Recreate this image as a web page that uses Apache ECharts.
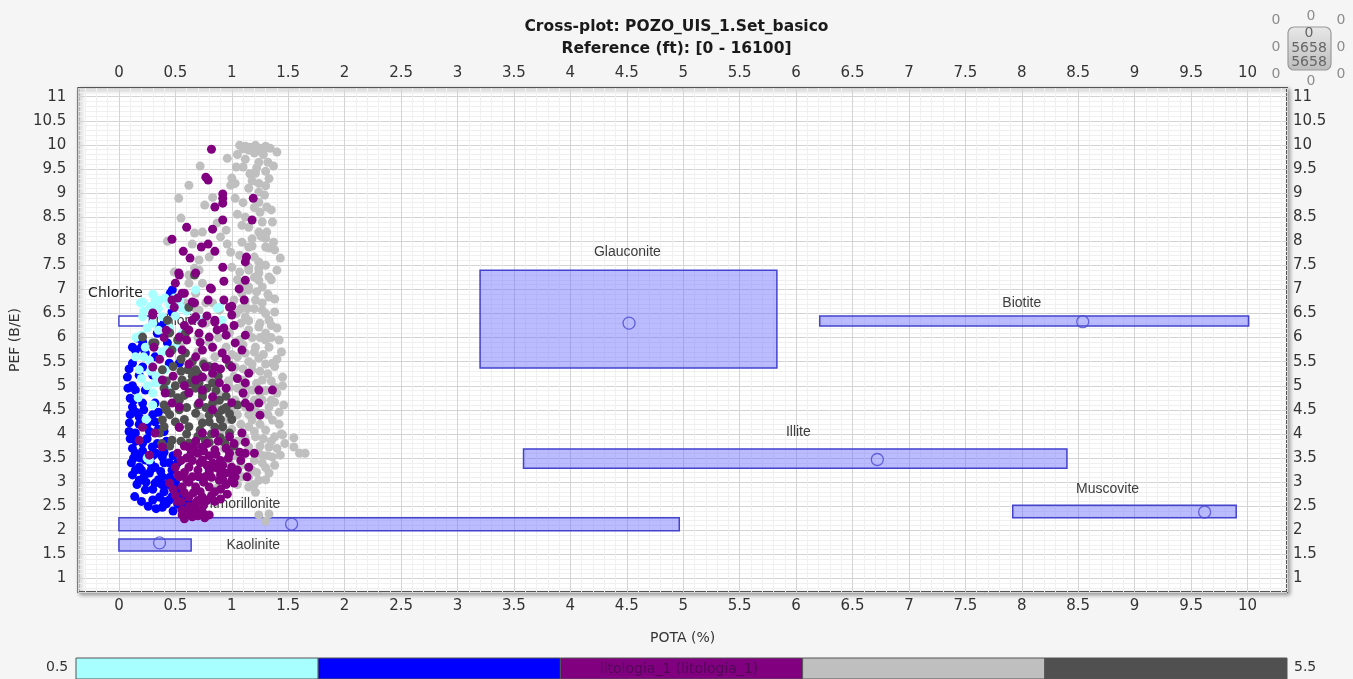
<!DOCTYPE html>
<html><head><meta charset="utf-8">
<script src="https://cdn.jsdelivr.net/npm/echarts/dist/echarts.min.js"></script>
<style>html,body{margin:0;padding:0;background:#f5f5f5;}#c{width:1353px;height:679px;}</style>
</head><body><div id="c"></div>
<script>
// ---------- data ----------
const titleLines = ['Cross-plot: POZO_UIS_1.Set_basico', 'Reference (ft): [0 - 16100]'];
const xName = 'POTA (%)';
const yName = 'PEF (B/E)';
const potaRange = [-0.36, 10.35];
const pefRange = [0.72, 11.18];
const tickStep = 0.5;

const mineralNames = ['Chlorite', 'Glauconite', 'Biotite', 'Illite', 'Muscovite', 'Montmorillonite', 'Kaolinite'];
const mineralPotaMin = [0, 3.2, 6.21, 3.585, 7.92, 0, 0];
const mineralPotaMax = [0.27, 5.83, 10.01, 8.40, 9.90, 4.965, 0.64];
const mineralPefMin = [6.24, 5.37, 6.24, 3.29, 2.26, 1.99, 1.57];
const mineralPefMax = [6.45, 7.40, 6.45, 3.69, 2.52, 2.26, 1.82];
const mineralPotaCenter = [null, 4.52, 8.54, 6.72, 9.62, 1.53, 0.36];
const mineralPefCenter = [null, 6.30, 6.33, 3.47, 2.38, 2.13, 1.74];
const mineralLabelPota = [0.54, 4.505, 8.00, 6.02, 8.76, 1.01, 1.19];
const mineralLabelPef = [6.34, 7.77, 6.72, 4.04, 2.86, 2.55, 1.70];
const annotationText = ['Chlorite'];
const annotationPota = [-0.03];
const annotationPef = [6.92];

const colorbarTitle = 'litologia_1 (litologia_1)';
const colorbarRange = [0.5, 5.5];
const lithoClasses = [1, 2, 3, 4, 5];

const counterOuter = ['0', '0', '0', '0', '0', '0', '0', '0'];
const counterInner = ['0', '5658', '5658'];

// litologia = 1 (cyan)
const lito1 = [[0.21,6.74],[0.32,6.76],[0.41,6.82],[0.54,6.78],[0.68,6.99],[0.87,6.61],[0.915,6.36],[0.385,6.43],[0.18,5.33],[0.27,5.53],[0.234,5.80],[0.146,5.60],[0.32,5.06],[0.41,5.33],[0.56,6.09],[0.50,5.80],[0.30,4.60],[0.27,3.46],[0.19,6.72],[0.89,6.63],[0.49,6.82],[0.21,6.43],[0.25,6.20],[0.15,6.00],[0.35,6.60],[0.45,6.20],[0.38,5.70],[0.28,5.30],[0.50,6.45],[0.60,6.55],[0.70,6.40],[0.20,5.15],[0.17,4.75],[0.42,4.95],[0.24,4.30],[0.30,6.90],[0.25,3.50],
[0.22,6.55],[0.28,6.65],[0.36,6.78],[0.45,6.68],[0.55,6.62],[0.30,6.30],[0.20,6.05],[0.35,6.15],[0.42,5.75],[0.30,5.90],[0.22,5.60],[0.33,5.20],[0.25,5.00],[0.38,5.05],[0.30,4.85]];
// litologia = 2 (blue)
const lito2 = [[0.32,6.57],[0.47,6.53],[0.36,6.22],[0.34,6.09],[0.164,5.99],[0.21,5.91],[0.146,5.74],[0.234,5.68],[0.32,5.60],[0.43,5.89],[0.12,5.47],[0.21,5.39],[0.447,5.47],[0.535,5.47],[0.075,5.18],[0.18,5.22],[0.30,5.22],[0.146,4.91],[0.234,4.91],[0.10,4.74],[0.21,4.64],[0.32,4.64],[0.473,6.99],[0.455,6.92],
[0.12,4.56],[0.18,4.35],[0.093,4.23],[0.146,4.02],[0.21,3.81],[0.146,3.60],[0.234,3.46],[0.146,3.25],[0.18,3.04],[0.27,3.19],[0.32,2.98],[0.234,2.84],[0.36,2.69],[0.447,2.63],[0.385,2.48],[0.30,2.63],[0.535,2.63],[0.473,2.90],[0.385,3.11],[0.32,3.31],[0.447,3.40],[0.296,3.73],[0.18,3.31],[0.80,3.25],[0.89,3.40],[0.71,3.11],[0.62,2.57],[0.385,3.52],
[0.25,4.20],[0.30,4.40],[0.35,4.10],[0.25,3.90],[0.33,3.60],[0.40,3.40],[0.28,3.40],[0.22,3.10],[0.30,2.85],[0.40,2.80],[0.45,3.10],[0.50,2.85],[0.38,2.95],[0.13,3.50],[0.10,3.90],[0.15,4.45],[0.12,5.00],[0.20,5.80],[0.40,6.30],[0.55,2.50],[0.48,2.40],[0.42,2.55],[0.58,2.70],
[0.14,2.70],[0.20,2.60],[0.26,2.50],[0.33,2.45],[0.40,2.60],[0.47,2.70],[0.52,2.55],[0.16,2.95],[0.24,3.00],[0.35,3.05],[0.42,2.95],[0.50,3.00],[0.55,2.80],[0.12,3.15],[0.20,3.25],[0.29,3.28],[0.37,3.22],[0.47,3.25],[0.52,3.40],[0.11,3.40],[0.19,3.50],[0.30,3.55],[0.40,3.62],[0.48,3.55],[0.12,3.70],[0.21,3.65],[0.34,3.80],[0.42,3.85],[0.15,3.85],[0.27,4.05],[0.40,4.05],[0.09,4.05],[0.18,4.20],[0.32,4.25],[0.10,4.40],[0.22,4.50],[0.35,4.45],[0.13,4.70],[0.08,4.95],[0.09,5.35],[0.12,5.80]];
// litologia = 3 (purple)
const lito3 = [[0.82,9.91],[0.77,9.33],[0.79,9.27],[0.92,8.98],[0.92,8.89],[0.92,8.79],[0.85,8.71],[1.19,8.89],[0.92,8.44],[1.18,8.44],[0.60,8.29],[0.83,8.25],[0.47,8.04],[0.57,7.79],[0.73,7.88],[0.79,7.94],[0.63,7.65],[0.85,7.79],[1.13,7.67],[1.12,7.57],[0.92,7.46],[0.53,7.34],
[0.93,7.17],[1.12,7.19],[0.50,7.13],[0.82,7.01],[1.065,7.01],[0.58,6.92],[0.67,6.72],[0.79,6.78],[0.93,6.78],[1.11,6.78],[1.00,6.65],[0.52,6.82],[0.30,6.47],[0.68,6.43],[0.85,6.32],
[0.535,7.30],[0.68,7.34],[0.81,7.03],[0.56,6.92],[0.65,6.74],[0.98,6.63],[1.00,6.47],[0.85,6.36],[0.74,6.30],[0.65,6.36],[0.87,6.16],[0.93,6.20],[0.71,6.09],[0.80,6.01],[0.62,6.16],[0.535,6.01],[1.12,6.05],[0.74,5.74],[0.83,5.80],[0.915,5.68],[1.09,5.74],[0.68,5.60],[0.765,5.39],[0.85,5.39],[0.74,5.18],[0.83,5.26],[0.89,5.06],[0.68,5.12],[0.62,4.85],[0.74,4.91],[0.83,4.77],[0.41,4.85],[0.47,4.64],[0.385,5.12],[0.30,5.39],[0.31,5.80],[0.45,5.68],[0.56,5.74],[1.00,5.39],[1.15,5.26],[1.12,5.06],[1.24,4.91],[1.36,4.91],[1.12,4.64],[1.24,4.64],[1.03,5.89],[0.30,6.51],[0.49,6.63],[0.47,6.78],
[0.535,4.56],[0.71,4.64],[0.83,4.50],[1.16,4.56],[1.25,4.39],[0.74,4.02],[0.85,4.02],[0.98,3.94],[1.09,4.02],[1.12,3.83],[1.20,3.60],[1.12,3.60],[1.07,3.62],[1.15,3.31],[1.135,3.11],[1.00,3.31],[1.03,3.11],[0.94,3.19],[0.85,3.31],[0.74,3.46],[0.62,3.31],[0.50,3.31],[0.535,3.11],[0.65,3.11],[0.765,3.11],[0.89,3.04],[1.00,3.04],[0.45,2.98],[0.56,2.90],[0.68,2.90],[0.80,2.90],[0.62,2.69],[0.74,2.69],[0.50,2.73],[0.68,2.57],[0.56,2.42],[0.59,2.32],[0.65,2.36],[0.74,2.38],[0.80,2.32],[0.535,4.14],[0.32,4.02],[0.21,4.14],[0.18,3.87],[0.27,3.56],[0.385,3.73],[0.74,3.73],[0.85,3.67],[0.98,3.60],[0.62,3.73],
[0.56,2.32],[0.65,2.28],[0.58,2.24],[0.76,2.26],
[0.60,3.50],[0.70,3.60],[0.80,3.55],[0.90,3.45],[0.95,3.70],[0.68,3.85],[0.78,3.80],[0.88,3.85],[0.58,3.20],[0.70,3.25],[0.80,3.20],[0.92,3.35],[0.62,3.00],[0.75,3.00],[0.85,2.80],[0.95,2.95],[0.55,2.60],[0.66,2.78],[0.78,2.62],[0.72,3.40],[0.83,3.40],[0.64,3.60],[0.90,3.15],[1.05,3.25],[1.08,3.45],
[0.52,3.60],[0.58,3.75],[0.66,3.70],[0.75,3.65],[0.86,3.58],[0.97,3.50],[1.02,3.80],[0.55,3.45],[0.65,3.45],[0.78,3.35],[0.88,3.28],[0.98,3.20],[0.52,3.15],[0.60,3.05],[0.70,3.12],[0.82,3.10],[0.92,3.05],[1.02,2.98],[0.48,2.85],[0.58,2.78],[0.72,2.80],[0.82,2.72],[0.90,2.85],[0.96,2.75],[0.52,2.60],[0.62,2.50],[0.70,2.62],[0.85,2.60],[0.68,2.45],[0.62,2.35],[0.70,2.30],[0.90,2.65],[0.75,2.52],
[0.60,5.95],[0.72,5.90],[0.95,6.05],[1.02,6.25],[0.78,6.45],[0.58,6.25],[0.42,6.15],[0.95,5.55],[0.62,5.45],[0.90,5.35],[1.05,5.15],[0.95,4.95],[1.10,4.85],[1.00,4.65],[0.58,5.00],[0.48,5.20],[0.36,5.55],[0.40,6.00]];
// litologia = 4 (light grey)
const lito4 = [[1.07,9.99],[1.12,9.97],[1.16,9.95],[1.21,9.99],[1.25,9.93],[1.30,9.97],[1.34,9.93],[1.15,9.89],[1.24,9.87],[1.20,9.83],[1.28,9.90],[1.10,9.92],[0.96,9.72],[0.72,9.56],[1.04,9.54],[1.10,9.54],[1.24,9.64],[1.32,9.64],[1.37,9.56],[1.22,9.52],[1.21,9.41],[1.00,9.31],[0.99,9.16],[1.03,9.20],[0.62,9.16],[1.15,9.10],[1.24,9.20],[1.24,9.02],[0.53,8.89],[0.83,8.91],[1.03,8.89],[1.29,8.96],[1.24,8.81],[1.31,8.71],[1.25,8.60],[0.76,8.75],[1.05,8.56],[1.12,8.50],[0.55,8.48],[0.87,8.38],[1.09,8.33],[1.15,8.29],[1.27,8.40],[1.24,8.19],[1.31,8.19],[1.30,8.06],[1.37,7.98],[0.67,8.17],[0.74,8.19],[0.95,8.23],[0.90,8.09],[0.43,8.00],[0.65,7.94],[0.96,7.94],[1.09,7.98],[1.15,7.88],[1.33,7.86],[1.38,7.82],[0.71,7.61],[0.80,7.67],[0.99,7.77],[1.07,7.71],[1.20,7.67],[1.24,7.57],[1.43,7.65],[0.67,7.44],[0.49,7.36],[1.00,7.46],[1.07,7.36],[1.15,7.40],[1.24,7.44],
[1.30,7.88],[1.15,7.46],[1.24,7.34],[1.33,7.26],[1.15,7.05],[1.27,7.05],[1.09,6.92],[1.21,6.78],[1.33,6.84],[1.27,6.57],[1.38,6.53],[1.12,6.43],[1.25,6.30],[0.71,7.40],[0.62,7.13],[0.68,6.92],[0.77,6.72],[0.89,6.57],[0.77,6.30],
[1.33,6.36],[1.30,6.09],[1.24,6.22],[1.15,6.16],[1.07,5.95],[1.21,5.80],[1.33,5.80],[1.12,5.68],[1.24,5.57],[1.36,5.47],[1.45,5.18],[1.18,5.33],[1.03,5.39],[1.09,5.12],[1.27,5.12],[1.38,4.97],[0.98,4.97],[1.18,4.91],[1.03,4.70],[1.27,4.70],[1.38,4.66],[1.12,4.56],[0.71,6.57],[0.59,6.72],[0.83,6.72],[1.24,7.19],[1.15,6.99],[0.74,7.13],[0.62,7.30],[1.02,6.78],[1.27,6.72],
[1.33,4.56],[1.27,4.43],[1.36,4.29],[1.18,4.29],[1.30,4.08],[1.38,3.94],[1.21,3.94],[1.09,4.02],[1.33,3.73],[1.24,3.60],[1.15,3.73],[1.36,3.52],[1.27,3.40],[1.18,3.25],[1.33,3.19],[1.24,3.04],[1.09,3.11],[1.00,3.31],[1.45,3.98],[1.55,3.92],[1.55,3.73],[1.60,3.60],[1.65,3.60],[1.43,3.56],[1.21,2.79],[1.24,2.32],[1.33,2.34],[1.30,2.19],
[1.05,4.40],[1.15,4.15],[1.25,4.20],[1.32,4.40],[1.10,3.55],[1.20,3.45],[1.30,3.30],[1.12,5.00],[1.22,5.05],[1.32,5.25],[1.05,5.60],[1.15,5.50],[1.28,5.65],[1.38,5.40],[1.40,4.85],[1.42,4.20],[1.18,6.00],[1.08,6.30],[1.35,6.00],[1.20,6.60],[1.10,7.10],[1.30,7.50],[1.35,7.20],[1.18,7.90],[1.26,8.10],[1.36,8.40],[1.10,8.80],[1.33,9.30],[1.16,9.40],[1.28,9.80],[1.30,9.45],[1.12,9.70],[0.85,5.60],[0.95,5.80],[0.75,5.50],[0.90,4.80],[0.97,4.30],[0.93,3.70],[0.98,3.40],[0.88,2.90],[0.60,6.20],[0.70,6.00],[0.55,5.80],[1.05,2.95],[1.15,2.90],
[1.02,3.55],[1.05,3.85],[1.08,4.20],[1.02,4.60],[1.05,4.95],[1.02,5.20],[1.10,5.35],[1.12,4.80],[1.20,4.70],[1.22,4.45],[1.15,4.40],[1.20,4.05],[1.28,3.90],[1.25,3.75],[1.32,3.55],[1.15,3.10],[1.22,3.20],[1.28,3.55],[1.35,3.85],[1.40,3.70],[1.42,4.45],[1.35,4.70],[1.30,4.90],[1.25,5.30],[1.40,5.55],[1.30,5.95],[1.20,5.70],[1.10,5.85],[1.15,6.35],[1.30,6.50],[1.22,6.95],[1.38,6.80],[1.05,7.20],[1.40,7.40],[1.20,7.25],[1.18,8.05],[1.35,8.65],[1.20,8.70],[1.18,9.25],[1.30,9.15],[1.40,9.85],[1.05,9.80],
[0.98,3.70],[1.00,4.10],[0.99,4.50],[0.97,5.10],[1.00,5.65],[0.98,6.10],[1.04,6.50],[1.12,6.75],[1.35,6.25],[1.42,5.95],[1.44,5.70],[1.45,5.00],[1.46,4.60],[1.44,4.00],[1.47,3.80],[1.38,3.35],[1.30,3.05],[1.20,2.95],[1.08,3.35],[1.12,3.90],[1.18,4.55],[1.25,4.85],[1.35,5.10],[1.30,5.45],[1.18,5.45],[1.10,5.10],[1.40,6.20],[1.25,6.00],[1.14,6.60],[1.32,6.90],[1.08,6.60],[0.80,5.90],[0.88,6.00],[0.70,5.70],[0.80,5.15],[0.85,4.55],[0.72,4.35],[0.90,4.05],[0.68,6.60]];
// litologia = 5 (dark grey)
const lito5 = [[0.67,7.30],[0.61,5.33],[0.63,5.06],[0.74,4.85],[0.83,4.64],[0.535,4.70],[0.98,5.43],[0.32,5.89],[0.59,6.09],[0.43,6.36],
[0.62,4.87],[0.74,4.77],[0.89,4.70],[0.535,4.50],[0.68,4.43],[0.80,4.39],[0.915,4.50],[0.385,4.29],[0.535,4.14],[0.74,4.23],[0.85,4.14],[0.98,4.02],[0.47,3.87],[0.62,3.81],[0.765,3.87],[0.36,4.02],[0.56,5.12],[0.68,5.33],[0.385,5.33],[0.30,5.89],[0.47,5.74],[0.59,5.68],[0.71,5.06],[0.83,5.06],[0.21,6.01],[0.62,6.63],
[0.45,4.40],[0.58,4.30],[0.70,4.60],[0.78,4.95],[0.90,4.30],[0.95,4.55],[0.50,5.00],[0.65,5.20],[0.75,5.45],[0.55,5.55],[0.42,5.10],[0.88,5.20],[0.60,4.00],[0.70,3.95],[0.82,4.00],[0.52,4.75],[0.40,4.60],[1.00,4.30],[1.05,4.60],[0.48,5.40],[1.02,3.75],[0.94,3.81],
[0.38,3.80],[0.45,3.75],[0.55,3.85],[0.68,3.78],[0.80,3.82],[0.90,3.92],[0.40,4.15],[0.50,4.25],[0.62,4.15],[0.72,4.08],[0.80,4.25],[0.92,4.15],[0.42,4.50],[0.60,4.55],[0.77,4.55],[0.88,4.42],[0.98,4.42],[0.46,4.85],[0.58,4.80],[0.68,4.95],[0.86,4.90],[0.95,4.78],[0.40,4.95],[0.55,5.30],[0.70,5.25],[0.80,5.40],[0.65,5.50],[0.52,5.95],[0.45,6.10]];

// ---------- styles ----------
const lithoColors = ['#a8ffff', '#0000ff', '#800080', '#bfbfbf', '#505050'];
const axisLabelStyle = { fontFamily: 'DejaVu Sans', fontSize: 15, color: '#333' };
const fmt = v => (Math.abs(v / tickStep - Math.round(v / tickStep)) < 1e-6 ? String(+v.toFixed(2)) : '');

const chart = echarts.init(document.getElementById('c'), null, { renderer: 'canvas' });

function baseAxis(extra) {
  return Object.assign({
    type: 'value', splitNumber: 21,
    axisLine: { show: false }, axisTick: { show: false },
    axisLabel: Object.assign({ formatter: fmt }, axisLabelStyle),
  }, extra);
}

const pointSeries = [
  { data: lito4, c: 3 },
  { data: lito2, c: 1 },
  { data: lito1, c: 0 },
  { data: lito5, c: 4 },
  { data: lito3, c: 2 }
].map(s => ({
  type: 'scatter', xAxisIndex: 0, yAxisIndex: 0, data: s.data, symbol: 'circle', symbolSize: 9,
  itemStyle: { color: lithoColors[s.c], opacity: 1 }, z: 4, silent: true
}));

const counterPos = [[1276, 20], [1311, 16], [1341, 20], [1276, 47], [1341, 47], [1276, 74], [1311, 81], [1341, 74]];
const counterInnerPos = [[1309, 33], [1309, 48], [1309, 62]];

const option = {
  backgroundColor: '#f5f5f5',
  animation: false,
  title: {
    text: titleLines.join('\n'), left: 'center', top: 11,
    textStyle: { fontFamily: 'DejaVu Sans', fontWeight: 'bold', fontSize: 15.5, lineHeight: 22, color: '#1a1a1a' }
  },
  grid: [
    { left: 76, right: 66, top: 88, bottom: 87, show: true, backgroundColor: '#ffffff', borderColor: '#555', borderWidth: 2,
      shadowColor: 'rgba(0,0,0,0.35)', shadowBlur: 4, shadowOffsetX: 2, shadowOffsetY: 2 },
    { left: 76, right: 66, top: 658, height: 22 }
  ],
  xAxis: [
    baseAxis({ gridIndex: 0, min: potaRange[0], max: potaRange[1], position: 'bottom',
      name: xName, nameLocation: 'middle', nameGap: 39,
      nameTextStyle: { fontFamily: 'DejaVu Sans', fontSize: 14, color: '#333' },
      axisLabel: Object.assign({ formatter: fmt, margin: 7 }, axisLabelStyle),
      splitLine: { show: true, lineStyle: { color: '#d4d4d4', width: 1 } },
      minorTick: { show: false, splitNumber: 5 },
      minorSplitLine: { show: true, lineStyle: { color: '#f0f0f0', width: 1 } } }),
    baseAxis({ gridIndex: 0, min: potaRange[0], max: potaRange[1], position: 'top',
      axisLabel: Object.assign({ formatter: fmt, margin: 7 }, axisLabelStyle),
      splitLine: { show: false } }),
    { gridIndex: 1, type: 'value', min: colorbarRange[0], max: colorbarRange[1], show: false }
  ],
  yAxis: [
    baseAxis({ gridIndex: 0, min: pefRange[0], max: pefRange[1], position: 'left',
      name: yName, nameLocation: 'middle', nameGap: 38,
      nameTextStyle: { fontFamily: 'DejaVu Sans', fontSize: 14, color: '#333' },
      axisLabel: Object.assign({ formatter: fmt, margin: 12 }, axisLabelStyle),
      splitLine: { show: true, lineStyle: { color: '#d4d4d4', width: 1 } },
      minorTick: { show: false, splitNumber: 5 },
      minorSplitLine: { show: true, lineStyle: { color: '#f0f0f0', width: 1 } } }),
    baseAxis({ gridIndex: 0, min: pefRange[0], max: pefRange[1], position: 'right',
      axisLabel: Object.assign({ formatter: fmt, margin: 6 }, axisLabelStyle),
      splitLine: { show: false } }),
    { gridIndex: 1, type: 'value', min: 0, max: 1, show: false }
  ],
  series: [
    { // mineral boxes
      type: 'custom', xAxisIndex: 0, yAxisIndex: 0, z: 2, silent: true, clip: true,
      data: mineralNames.map((n, i) => [mineralPotaMin[i], mineralPotaMax[i], mineralPefMin[i], mineralPefMax[i]]),
      renderItem: (params, api) => {
        const a = api.coord([api.value(0), api.value(3)]);
        const b = api.coord([api.value(1), api.value(2)]);
        const plain = mineralNames[params.dataIndex] === 'Chlorite';
        return { type: 'rect', shape: { x: a[0], y: a[1], width: b[0] - a[0], height: b[1] - a[1] },
          style: { fill: plain ? 'rgba(255,255,255,0.95)' : 'rgba(105,105,255,0.45)', stroke: '#4343cf', lineWidth: 1.5 } };
      }
    },
    { // mineral labels
      type: 'custom', xAxisIndex: 0, yAxisIndex: 0, z: 3, silent: true,
      data: mineralNames.map((n, i) => [mineralLabelPota[i], mineralLabelPef[i]]),
      renderItem: (params, api) => {
        const p = api.coord([api.value(0), api.value(1)]);
        return { type: 'text', style: { text: mineralNames[params.dataIndex], x: p[0], y: p[1], align: 'center', verticalAlign: 'middle',
          fill: '#3c3c3c', font: '14px "Liberation Sans", Arial, sans-serif' } };
      }
    },
    { // annotation
      type: 'custom', xAxisIndex: 0, yAxisIndex: 0, z: 5, silent: true, clip: false,
      data: annotationText.map((t, i) => [annotationPota[i], annotationPef[i]]),
      renderItem: (params, api) => {
        const p = api.coord([api.value(0), api.value(1)]);
        return { type: 'text', style: { text: annotationText[params.dataIndex], x: p[0], y: p[1], align: 'center', verticalAlign: 'middle',
          fill: '#1e1e1e', font: '14px "DejaVu Sans", sans-serif' } };
      }
    },
    ...pointSeries,
    { // mineral centre markers
      type: 'scatter', xAxisIndex: 0, yAxisIndex: 0, z: 6, silent: true,
      data: mineralNames.map((n, i) => mineralPotaCenter[i] == null ? null : [mineralPotaCenter[i], mineralPefCenter[i]]).filter(d => d),
      symbol: 'circle', symbolSize: 12,
      itemStyle: { color: 'rgba(0,0,0,0)', borderColor: '#4a4ad2', borderWidth: 1.3 }
    },
    { // colour bar
      type: 'custom', xAxisIndex: 2, yAxisIndex: 2, z: 2, silent: true,
      data: lithoClasses.map(c => [c - 0.5, c + 0.5, c]),
      renderItem: (params, api) => {
        const a = api.coord([api.value(0), 1]);
        const b = api.coord([api.value(1), 0]);
        return { type: 'rect', shape: { x: a[0], y: a[1], width: b[0] - a[0], height: b[1] - a[1] },
          style: { fill: lithoColors[params.dataIndex], stroke: '#555', lineWidth: 1 } };
      }
    }
  ],
  graphic: [
    { type: 'text', left: 46, top: 660, style: { text: String(colorbarRange[0]), font: '14px "DejaVu Sans"', fill: '#333' } },
    { type: 'text', left: 1294, top: 660, style: { text: String(colorbarRange[1]), font: '14px "DejaVu Sans"', fill: '#333' } },
    { type: 'text', x: 679, y: 669, style: { text: colorbarTitle, align: 'center', verticalAlign: 'middle', font: '14px "DejaVu Sans"', fill: 'rgba(70,10,75,0.8)' }, z: 10 },
    { type: 'rect', shape: { x: 1288, y: 27, width: 43, height: 43, r: 6 },
      style: { fill: new echarts.graphic.LinearGradient(0, 0, 0, 1, [{ offset: 0, color: '#e8e8e8' }, { offset: 1, color: '#bdbdbd' }]), stroke: '#9a9a9a', lineWidth: 1.2 } },
    ...counterOuter.map((t, i) => ({ type: 'text', x: counterPos[i][0], y: counterPos[i][1],
      style: { text: t, align: 'center', verticalAlign: 'middle', font: '14px "DejaVu Sans"', fill: '#8c8c8c' } })),
    ...counterInner.map((t, i) => ({ type: 'text', x: counterInnerPos[i][0], y: counterInnerPos[i][1],
      style: { text: t, align: 'center', verticalAlign: 'middle', font: '14px "DejaVu Sans"', fill: '#666' } }))
  ]
};
chart.setOption(option);
</script></body></html>
